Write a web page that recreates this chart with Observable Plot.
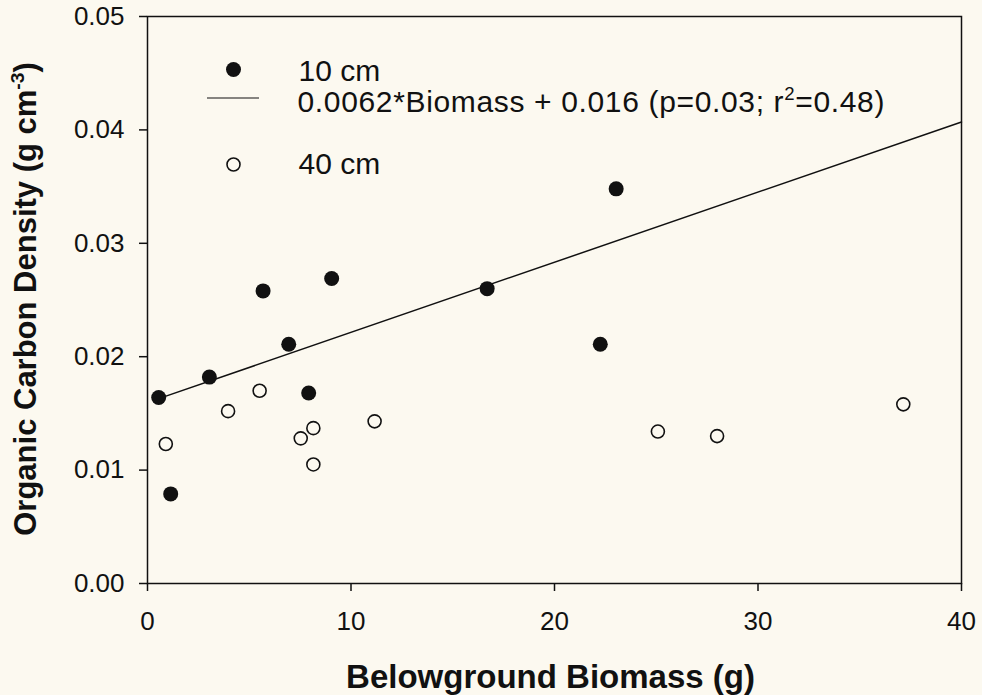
<!DOCTYPE html>
<html><head><meta charset="utf-8">
<script src="https://cdn.jsdelivr.net/npm/d3@7"></script>
<script src="https://cdn.jsdelivr.net/npm/@observablehq/plot@0.6"></script>
<style>
html,body{margin:0;padding:0;background:#fcf9f0;}
svg{display:block}
</style></head><body><div id="chart"></div>
<script>
// Data
const x10 = [0.55, 1.14, 3.04, 5.68, 6.94, 7.92, 9.05, 16.69, 22.25, 23.03];
const y10 = [0.0164, 0.0079, 0.0182, 0.0258, 0.0211, 0.0168, 0.0269, 0.0260, 0.0211, 0.0348];
const x40 = [0.90, 3.96, 5.51, 7.53, 8.15, 8.15, 11.16, 25.08, 27.99, 37.14];
const y40 = [0.0123, 0.0152, 0.0170, 0.0128, 0.0137, 0.0105, 0.0143, 0.0134, 0.0130, 0.0158];
const fitX = [0.55, 40];
const fitY = [0.0163, 0.0407];
const xTicks = [0, 10, 20, 30, 40];
const yTicks = [0, 0.01, 0.02, 0.03, 0.04, 0.05];
const xTitle = "Belowground Biomass (g)";
const yTitle = "Organic Carbon Density (g cm-3)";
const legend10 = "10 cm";
const legend40 = "40 cm";
const legendFit = "0.0062*Biomass + 0.016 (p=0.03; r2=0.48)";

const bg = "#fcf9f0";
const ink = "#111";

const pts10 = x10.map((x, i) => ({x, y: y10[i]}));
const pts40 = x40.map((x, i) => ({x, y: y40[i]}));
const fit = fitX.map((x, i) => ({x, y: fitY[i]}));

const chart = Plot.plot({
  width: 982, height: 695,
  marginLeft: 147, marginRight: 21, marginTop: 16, marginBottom: 112,
  style: {background: bg, fontFamily: "'Liberation Sans', Arial, sans-serif", color: ink, overflow: "visible"},
  x: {domain: [0, 40]},
  y: {domain: [0, 0.05]},
  marks: [
    Plot.axisX({ticks: xTicks, tickSize: 8, tickPadding: 20, fontSize: 26, tickFormat: d3.format("d"), label: null, stroke: ink, strokeWidth: 1.5}),
    Plot.axisY({ticks: yTicks, tickSize: 8, tickPadding: 15, fontSize: 26, tickFormat: d3.format(".2f"), label: null, stroke: ink, strokeWidth: 1.5}),
    Plot.frame({stroke: ink, strokeWidth: 1.5}),
    Plot.line(fit, {x: "x", y: "y", stroke: ink, strokeWidth: 1.5}),
    Plot.dot(pts40, {x: "x", y: "y", r: 6.5, fill: bg, stroke: ink, strokeWidth: 1.6}),
    Plot.dot(pts10, {x: "x", y: "y", r: 7.5, fill: ink, stroke: "none"}),
    // legend
    Plot.dot([legend10], {frameAnchor: "top-left", dx: 86, dy: 53, r: 7.5, fill: ink}),
    Plot.dot([legend40], {frameAnchor: "top-left", dx: 86, dy: 148, r: 6.5, fill: bg, stroke: ink, strokeWidth: 1.6}),
    (index, scales, values, dims) => d3.create("svg:line")
      .attr("x1", dims.marginLeft + 60).attr("x2", dims.marginLeft + 112)
      .attr("y1", dims.marginTop + 82).attr("y2", dims.marginTop + 82)
      .attr("stroke", ink).attr("stroke-width", 1.2).node(),
    Plot.text([legend10], {text: d => d, frameAnchor: "top-left", dx: 151, dy: 64, textAnchor: "start", lineAnchor: "bottom", fontSize: 30, fill: ink}),
    Plot.text([legendFit], {text: d => d, frameAnchor: "top-left", dx: 150, dy: 95, textAnchor: "start", lineAnchor: "bottom", fontSize: 30, fill: ink}),
    Plot.text([legend40], {text: d => d, frameAnchor: "top-left", dx: 151, dy: 157, textAnchor: "start", lineAnchor: "bottom", fontSize: 30, fill: ink}),
    // axis titles
    Plot.text([xTitle], {text: d => d, frameAnchor: "bottom", dx: -4, dy: 104, textAnchor: "middle", lineAnchor: "bottom", fontSize: 33, fontWeight: "bold", fill: ink}),
    Plot.text([yTitle], {text: d => d, frameAnchor: "left", dx: -112, dy: -1, rotate: -90, textAnchor: "middle", lineAnchor: "bottom", fontSize: 31, fontWeight: "bold", fill: ink})
  ]
});

// superscripts
function superscript(el, before, sup, after, shift) {
  const s = d3.select(el);
  s.text(null);
  s.append("tspan").text(before);
  s.append("tspan").attr("dy", -shift).attr("font-size", "62%").text(sup);
  s.append("tspan").attr("dy", shift).text(after);
}
d3.select(chart).selectAll("text").each(function() {
  const t = this.textContent;
  if (t === yTitle) superscript(this, "Organic Carbon Density (g cm", "-3", ")", 12);
  else if (t === legendFit) {
    superscript(this, "0.0062*Biomass + 0.016 (p=0.03; r", "2", "=0.48)", 12);
    this.setAttribute("letter-spacing", "0.65");
  }
});

document.getElementById("chart").appendChild(chart);
</script>
</body></html>
